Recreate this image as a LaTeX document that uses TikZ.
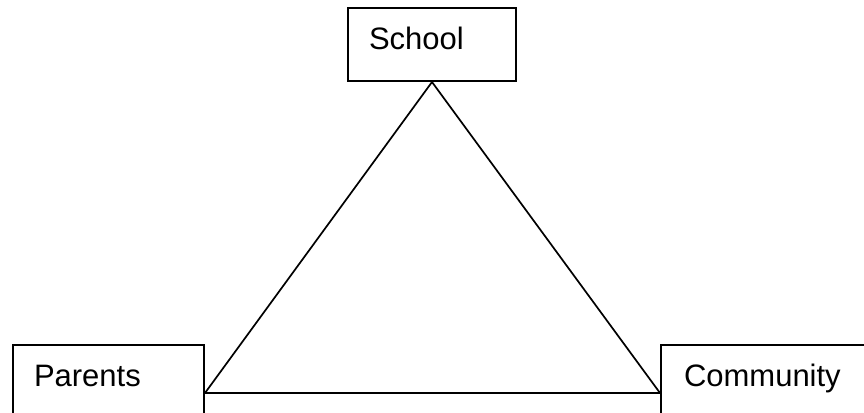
\documentclass[tikz,border=0pt]{standalone}
\usepackage{fontspec}
\setmainfont{Liberation Sans}
\usetikzlibrary{positioning}
\tikzset{
  box/.style={rectangle, draw, line width=2pt, anchor=north west, align=left,
              inner ysep=0pt, text height=41pt, font=\fontsize{31}{36}\selectfont},
  link/.style={line width=1.7pt, line join=miter},
}

\begin{document}
\begin{tikzpicture}[x=1pt, y=-1pt]
  \useasboundingbox (0,0) rectangle (864,412);
  \clip (0,0) rectangle (864,412);
  % the three partners
  \node[box, inner xsep=21pt, text width=126pt, text depth=32pt] (school) at (347,7) {School};
  \node[box, inner xsep=21pt, text width=149pt, text depth=55pt] (parents) at (12,344) {Parents};
  \node[box, inner xsep=23pt, text width=200pt, text depth=55pt] (community) at (660,344) {Community};
  % triangle between them
  \draw[link] (school.south) -- (parents.east) -- (community.west) -- cycle;
\end{tikzpicture}
\end{document}
